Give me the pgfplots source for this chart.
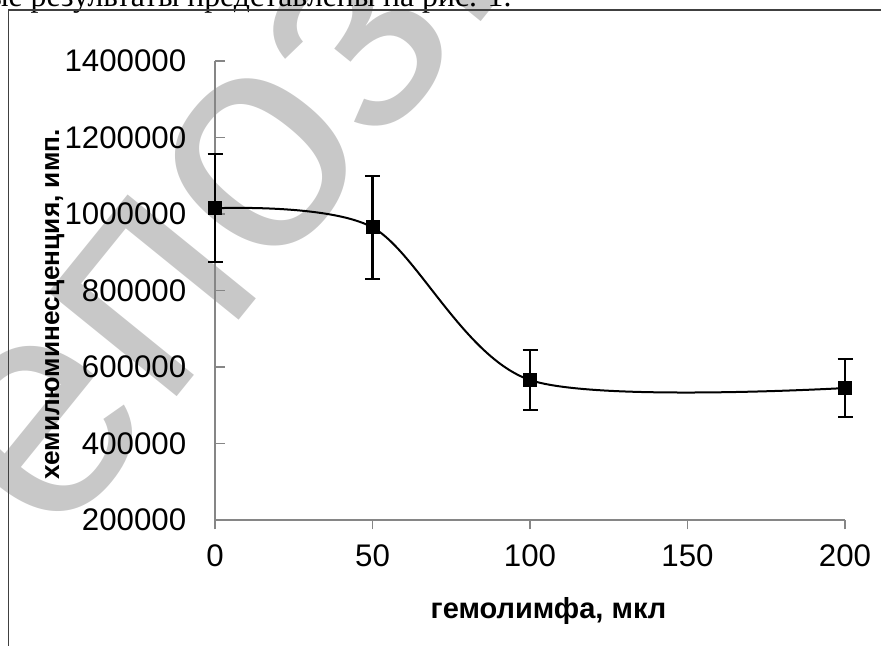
\documentclass[border=0pt]{standalone}
\usepackage{fontspec}
\setmainfont{Liberation Sans}
\newfontfamily\seriffont{Liberation Serif}
\usepackage{pgfplots}
\pgfplotsset{compat=1.18}
\definecolor{axgray}{RGB}{134,134,134}
\definecolor{wmgray}{RGB}{200,200,200}

\begin{document}
\begin{tikzpicture}
% 1 px of the reference = 0.4pt
\useasboundingbox (0,0) rectangle (352.4pt,258.4pt);
\clip (0,0) rectangle (352.4pt,258.4pt);

% watermark
\node[wmgray, rotate=51, anchor=base west, inner sep=0,
      font=\fontsize{125}{125}\selectfont] at (-27.4pt,-21.9pt) {Репозиторий};

% cut-off line of body text and the frame
\node[anchor=base east, inner sep=0, font=\seriffont\fontsize{12.7}{14}\selectfont]
  at (204.8pt,255.7pt) {Полученные результаты представлены на рис. 1.};
\draw[black!75, line width=0.6pt] (3.4pt,0) -- (3.4pt,254.4pt) -- (360pt,254.4pt);

\begin{axis}[
  at={(86pt,50.4pt)}, anchor=south west,
  scale only axis, width=252pt, height=183.6pt,
  xmin=0, xmax=200, ymin=200000, ymax=1400000,
  xtick={0,50,100,150,200},
  ytick={200000,400000,600000,800000,1000000,1200000,1400000},
  scaled y ticks=false,
  axis x line=bottom, axis y line=left,
  axis line style={-, axgray, line width=0.6pt},
  tick style={axgray, line width=0.6pt},
  tick align=inside,
  major tick length=3.8pt,
  x tick style={yshift=-3.8pt},
  ticklabel style={font=\fontsize{12.5}{14}\selectfont},
  /pgf/number format/assume math mode=true,
  /pgf/number format/fixed,
  /pgf/number format/precision=0,
  /pgf/number format/1000 sep={},
  yticklabel style={xshift=-8pt},
  xticklabel style={yshift=-6.5pt},
  clip=false,
]
\addplot[black, line width=0.8pt, smooth, mark=square*, mark size=2.4pt, mark options={solid},
  error bars/.cd, y dir=both, y explicit,
  error bar style={line width=0.9pt, black},
  error mark options={rotate=90, mark size=3pt, line width=0.9pt, black}]
  coordinates {
    (0,1015000) +- (0,141000)
    (50,965000) +- (0,135000)
    (100,566000) +- (0,78000)
    (200,545000) +- (0,76000)
  };
\end{axis}

\node[anchor=base, font=\bfseries\fontsize{11.6}{14}\selectfont] at (219.4pt,10.8pt) {гемолимфа, мкл};
\node[anchor=base, rotate=90, font=\bfseries\fontsize{10.5}{14}\selectfont] at (23.6pt,136.6pt) {хемилюминесценция, имп.};
\end{tikzpicture}
\end{document}
